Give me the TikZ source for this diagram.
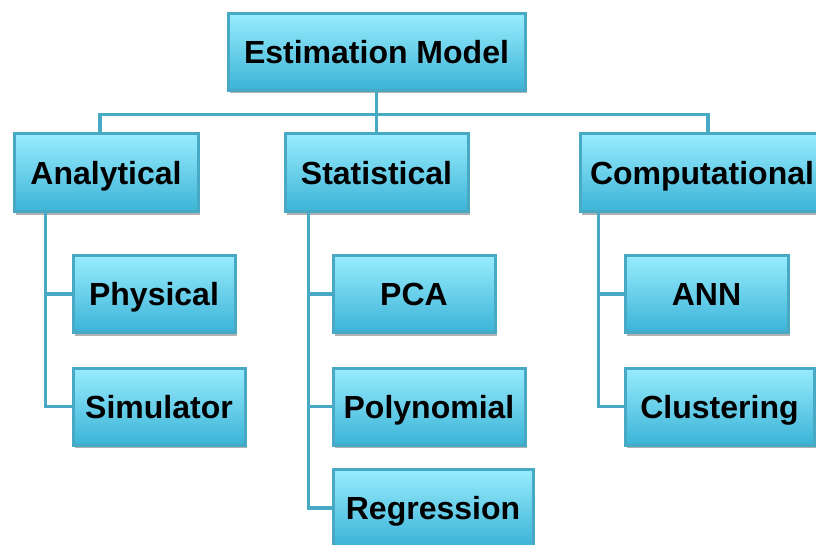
\documentclass[tikz,border=0pt]{standalone}
\usepackage{fontspec}
\setmainfont{Liberation Sans}
\usetikzlibrary{shadows}

\definecolor{boxedge}{HTML}{48A9C5}
\definecolor{boxtop}{HTML}{98ECFD}
\definecolor{boxbot}{HTML}{3BB3D7}

\tikzset{
  box/.style={draw=boxedge, line width=3pt, top color=boxtop, bottom color=boxbot,
    minimum height=77pt, inner sep=0pt, font=\fontsize{32}{38}\selectfont\bfseries,
    text height=23pt, text depth=0pt,
    drop shadow={shadow xshift=2pt, shadow yshift=-3pt, opacity=0.3, fill=black}},
  link/.style={draw=boxedge, line width=3.5pt}
}

\begin{document}
\begin{tikzpicture}[x=1pt, y=-1pt]
  \useasboundingbox (0,0) rectangle (816,545);

  % root and first level
  \node[box, minimum width=297pt] (est) at (376.5,52) {Estimation Model};
  \node[box, minimum width=184pt, minimum height=78pt] (ana) at (106,173) {Analytical};
  \node[box, minimum width=183pt, minimum height=78pt] (sta) at (376.5,173) {Statistical};
  \node[box, minimum width=244pt, minimum height=78pt] (com) at (702,173) {Computational};

  % leaves
  \node[box, minimum width=162pt] (phy) at (154,294) {Physical};
  \node[box, minimum width=172pt] (sim) at (159,406.5) {Simulator};
  \node[box, minimum width=162pt] (pca) at (414,294) {PCA};
  \node[box, minimum width=192pt] (pol) at (429,406.5) {Polynomial};
  \node[box, minimum width=200pt] (reg) at (433,508) {Regression};
  \node[box, minimum width=163pt] (ann) at (706.5,294) {ANN};
  \node[box, minimum width=189pt] (clu) at (719.5,406.5) {Clustering};

  % bus under the root
  \draw[link] (est.south) -- (sta.north);
  \draw[link] ([xshift=-6pt]ana.north) -- ++(0,-18) -| ([xshift=6pt]com.north);

  % trunks down to the leaves
  \coordinate (t1) at ([xshift=33pt]ana.south west);
  \coordinate (t2) at ([xshift=25pt]sta.south west);
  \coordinate (t3) at ([xshift=20pt]com.south west);
  \begin{scope}[link]
    \draw (t1) |- (sim.west);
    \draw (phy.west) -- (phy.west -| t1);
    \draw (t2) |- (reg.west);
    \draw (pca.west) -- (pca.west -| t2);
    \draw (pol.west) -- (pol.west -| t2);
    \draw (t3) |- (clu.west);
    \draw (ann.west) -- (ann.west -| t3);
  \end{scope}
\end{tikzpicture}
\end{document}
